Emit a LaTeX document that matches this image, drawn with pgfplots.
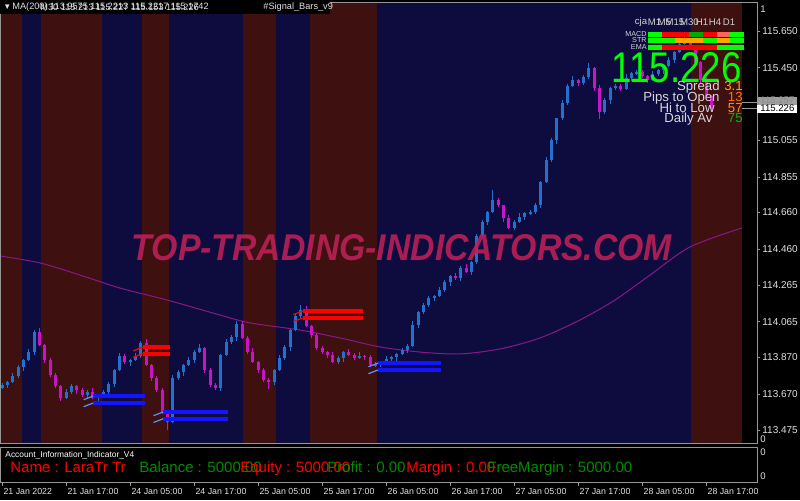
\documentclass[border=0pt]{standalone}
\usepackage{fontspec}
\setmainfont{Liberation Sans}
\usepackage{graphicx}
\usepackage{pgfplots}
\usepackage{pgfplotstable}
\pgfplotsset{compat=1.18}

\definecolor{bandred}{RGB}{62,16,16}
\definecolor{bandblue}{RGB}{14,12,62}
\definecolor{cblue}{RGB}{35,112,205}
\definecolor{cmag}{RGB}{200,20,200}
\definecolor{maline}{RGB}{135,25,135}
\definecolor{wm}{RGB}{190,32,88}
\definecolor{lime}{RGB}{0,255,0}
\definecolor{mtgreen}{RGB}{0,140,0}
\definecolor{axgray}{RGB}{150,150,150}
\definecolor{txt}{RGB}{225,225,225}
\definecolor{cg}{RGB}{0,255,0}
\definecolor{cr}{RGB}{255,0,0}
\definecolor{cdg}{RGB}{0,170,0}
\definecolor{csal}{RGB}{255,100,90}
\definecolor{cor}{RGB}{255,165,0}
\definecolor{sigblue}{RGB}{20,20,255}
\definecolor{stub}{RGB}{80,150,255}

\newcommand\fs[1]{\fontsize{#1}{#1}\selectfont}

% hourly candles: index, open, high, low, close
\pgfplotstableread{
x o h l c
0 113.705 113.732 113.696 113.720
1 113.720 113.742 113.705 113.736
2 113.736 113.787 113.731 113.769
3 113.769 113.827 113.758 113.818
4 113.818 113.860 113.798 113.856
5 113.856 113.914 113.849 113.899
6 113.899 114.019 113.886 114.009
7 114.009 114.031 113.934 113.938
8 113.938 113.945 113.840 113.856
9 113.856 113.869 113.764 113.774
10 113.774 113.786 113.705 113.714
11 113.714 113.720 113.634 113.649
12 113.649 113.699 113.644 113.681
13 113.681 113.723 113.670 113.714
14 113.714 113.718 113.672 113.692
15 113.692 113.707 113.658 113.665
16 113.665 113.691 113.652 113.681
17 113.681 113.703 113.645 113.649
18 113.649 113.672 113.633 113.665
19 113.665 113.694 113.655 113.681
20 113.681 113.737 113.672 113.725
21 113.725 113.807 113.710 113.801
22 113.801 113.896 113.796 113.878
23 113.878 113.887 113.834 113.845
24 113.845 113.860 113.825 113.856
25 113.856 113.893 113.849 113.878
26 113.878 113.959 113.865 113.949
27 113.949 113.971 113.825 113.829
28 113.829 113.836 113.742 113.758
29 113.758 113.771 113.682 113.692
30 113.692 113.704 113.563 113.572
31 113.572 113.578 113.475 113.518
32 113.518 113.776 113.513 113.758
33 113.758 113.799 113.747 113.790
34 113.790 113.833 113.770 113.829
35 113.829 113.871 113.822 113.856
36 113.856 113.909 113.843 113.899
37 113.899 113.943 113.895 113.921
38 113.921 113.928 113.785 113.801
39 113.801 113.814 113.710 113.720
40 113.720 113.732 113.694 113.703
41 113.703 113.889 113.688 113.883
42 113.883 113.972 113.878 113.954
43 113.954 113.990 113.943 113.981
44 113.981 114.072 113.961 114.052
45 114.052 114.067 113.969 113.976
46 113.976 113.986 113.886 113.899
47 113.899 113.921 113.841 113.845
48 113.845 113.852 113.785 113.801
49 113.801 113.814 113.737 113.747
50 113.747 113.759 113.700 113.736
51 113.736 113.807 113.721 113.801
52 113.801 113.885 113.796 113.867
53 113.867 113.936 113.856 113.927
54 113.927 114.023 113.907 114.019
55 114.019 114.111 114.012 114.096
56 114.096 114.156 114.083 114.128
57 114.128 114.150 114.037 114.041
58 114.041 114.048 113.976 113.992
59 113.992 114.005 113.911 113.921
60 113.921 113.933 113.890 113.899
61 113.899 113.905 113.868 113.883
62 113.883 113.901 113.840 113.845
63 113.845 113.876 113.834 113.867
64 113.867 113.903 113.847 113.899
65 113.899 113.914 113.876 113.883
66 113.883 113.893 113.854 113.867
67 113.867 113.900 113.863 113.878
68 113.878 113.885 113.856 113.872
69 113.872 113.885 113.819 113.829
70 113.829 113.846 113.820 113.834
71 113.834 113.851 113.819 113.845
72 113.845 113.879 113.840 113.861
73 113.861 113.881 113.850 113.872
74 113.872 113.893 113.852 113.889
75 113.889 113.925 113.882 113.910
76 113.910 113.942 113.897 113.932
77 113.932 114.069 113.928 114.047
78 114.047 114.125 114.031 114.118
79 114.118 114.169 114.108 114.156
80 114.156 114.206 114.147 114.194
81 114.194 114.211 114.179 114.205
82 114.205 114.256 114.200 114.238
83 114.238 114.290 114.227 114.281
84 114.281 114.318 114.261 114.314
85 114.314 114.329 114.296 114.303
86 114.303 114.368 114.290 114.358
87 114.358 114.380 114.332 114.336
88 114.336 114.397 114.320 114.390
89 114.390 114.545 114.380 114.532
90 114.532 114.620 114.523 114.608
91 114.608 114.669 114.593 114.663
92 114.663 114.783 114.658 114.728
93 114.728 114.737 114.690 114.701
94 114.701 114.705 114.610 114.630
95 114.630 114.645 114.569 114.576
96 114.576 114.618 114.563 114.608
97 114.608 114.658 114.604 114.636
98 114.636 114.664 114.620 114.657
99 114.657 114.676 114.647 114.663
100 114.663 114.713 114.654 114.701
101 114.701 114.832 114.686 114.826
102 114.826 114.964 114.821 114.946
103 114.946 115.064 114.935 115.055
104 115.055 115.179 115.035 115.175
105 115.175 115.272 115.168 115.257
106 115.257 115.360 115.244 115.350
107 115.350 115.405 115.346 115.383
108 115.383 115.390 115.350 115.366
109 115.366 115.412 115.356 115.399
110 115.399 115.475 115.390 115.448
111 115.448 115.454 115.324 115.339
112 115.339 115.357 115.170 115.208
113 115.208 115.283 115.197 115.274
114 115.274 115.343 115.254 115.339
115 115.339 115.365 115.332 115.350
116 115.350 115.360 115.321 115.334
117 115.334 115.416 115.330 115.394
118 115.394 115.428 115.378 115.421
119 115.421 115.439 115.411 115.426
120 115.426 115.438 115.396 115.405
121 115.405 115.411 115.368 115.383
122 115.383 115.433 115.378 115.415
123 115.415 115.446 115.404 115.437
124 115.437 115.463 115.417 115.459
125 115.459 115.507 115.452 115.492
126 115.492 115.545 115.479 115.535
127 115.535 115.601 115.531 115.579
128 115.579 115.628 115.563 115.601
129 115.601 115.614 115.547 115.557
130 115.557 115.569 115.472 115.481
131 115.481 115.487 115.368 115.383
132 115.383 115.401 115.290 115.295
133 115.295 115.304 115.215 115.226
}\candles

\begin{document}
\begin{tikzpicture}
\fill[black] (0pt,0pt) rectangle (400pt,250pt);

% ---------------- main price panel ----------------
\begin{axis}[
  at={(0pt,28.5pt)}, anchor=south west,
  width=378.5pt, height=220.5pt, scale only axis,
  xmin=-0.375, xmax=141.56, ymin=113.403, ymax=115.808,
  axis on top,
  axis line style={draw=axgray},
  xtick=\empty,
  ytick={113.475,113.670,113.870,114.065,114.265,114.460,114.660,114.855,115.055,115.450,115.650},
  yticklabels={113.475,113.670,113.870,114.065,114.265,114.460,114.660,114.855,115.055,115.450,115.650},
  ytick pos=right, yticklabel pos=right,
  tick align=outside, major tick length=1.5pt,
  tick style={draw=axgray},
  yticklabel style={font=\fs{5}, text=txt, anchor=west, inner sep=0pt, xshift=1pt},
]
  % session bands
  \addplot[fill=bandred, draw=none] coordinates {(-0.375,113.403) (3.75,113.403) (3.75,115.808) (-0.375,115.808)} -- cycle;
  \addplot[fill=bandblue, draw=none] coordinates {(3.75,113.403) (7.31,113.403) (7.31,115.808) (3.75,115.808)} -- cycle;
  \addplot[fill=bandred, draw=none] coordinates {(7.31,113.403) (18.75,113.403) (18.75,115.808) (7.31,115.808)} -- cycle;
  \addplot[fill=bandblue, draw=none] coordinates {(18.75,113.403) (26.25,113.403) (26.25,115.808) (18.75,115.808)} -- cycle;
  \addplot[fill=bandred, draw=none] coordinates {(26.25,113.403) (31.31,113.403) (31.31,115.808) (26.25,115.808)} -- cycle;
  \addplot[fill=bandblue, draw=none] coordinates {(31.31,113.403) (45.19,113.403) (45.19,115.808) (31.31,115.808)} -- cycle;
  \addplot[fill=bandred, draw=none] coordinates {(45.19,113.403) (51.38,113.403) (51.38,115.808) (45.19,115.808)} -- cycle;
  \addplot[fill=bandblue, draw=none] coordinates {(51.38,113.403) (57.75,113.403) (57.75,115.808) (51.38,115.808)} -- cycle;
  \addplot[fill=bandred, draw=none] coordinates {(57.75,113.403) (70.31,113.403) (70.31,115.808) (57.75,115.808)} -- cycle;
  \addplot[fill=bandblue, draw=none] coordinates {(70.31,113.403) (129.19,113.403) (129.19,115.808) (70.31,115.808)} -- cycle;
  \addplot[fill=bandred, draw=none] coordinates {(129.19,113.403) (138.75,113.403) (138.75,115.808) (129.19,115.808)} -- cycle;

  % MA(200)
  \addplot[maline, line width=0.5pt, smooth] coordinates {
    (-0.375,114.423) (7.125,114.385) (14.625,114.319) (22.125,114.248)
    (30.94,114.183) (40.875,114.101) (46.5,114.058) (55.875,114.019)
    (63.375,113.976) (70.875,113.927) (78.375,113.899) (85.875,113.889)
    (93.375,113.916) (100.875,113.976) (108.375,114.074) (114.94,114.183)
    (121.5,114.319) (129,114.472) (138.75,114.576)};

  % candles: wicks and bodies, up = blue, down = magenta
  \addplot[draw=none, mark=none,
    restrict expr to domain={\thisrow{c}-\thisrow{o}}{0:5},
    error bars/.cd, y dir=both, y explicit, error mark=none,
    error bar style={cblue, line width=0.5pt}]
    table[x=x, y expr={(\thisrow{h}+\thisrow{l})/2}, y error expr={(\thisrow{h}-\thisrow{l})/2}] {\candles};
  \addplot[draw=none, mark=none,
    restrict expr to domain={\thisrow{c}-\thisrow{o}}{0:5},
    error bars/.cd, y dir=both, y explicit, error mark=none,
    error bar style={cblue, line width=1.5pt}]
    table[x=x, y expr={(\thisrow{o}+\thisrow{c})/2}, y error expr={abs(\thisrow{c}-\thisrow{o})/2}] {\candles};
  \addplot[draw=none, mark=none,
    restrict expr to domain={\thisrow{c}-\thisrow{o}}{-5:0},
    error bars/.cd, y dir=both, y explicit, error mark=none,
    error bar style={cmag, line width=0.5pt}]
    table[x=x, y expr={(\thisrow{h}+\thisrow{l})/2}, y error expr={(\thisrow{h}-\thisrow{l})/2}] {\candles};
  \addplot[draw=none, mark=none,
    restrict expr to domain={\thisrow{c}-\thisrow{o}}{-5:0},
    error bars/.cd, y dir=both, y explicit, error mark=none,
    error bar style={cmag, line width=1.5pt}]
    table[x=x, y expr={(\thisrow{o}+\thisrow{c})/2}, y error expr={abs(\thisrow{c}-\thisrow{o})/2}] {\candles};

  % signal bars
  \addplot[cr, line width=2pt] coordinates {(26.4,113.926) (31.5,113.926)};
  \addplot[cr, line width=2pt] coordinates {(26.4,113.890) (31.5,113.890)};
  \addplot[cr, line width=2pt] coordinates {(56.4,114.123) (67.7,114.123)};
  \addplot[cr, line width=2pt] coordinates {(56.4,114.085) (67.7,114.085)};
  \addplot[sigblue, line width=2pt] coordinates {(17.1,113.659) (26.8,113.659)};
  \addplot[sigblue, line width=2pt] coordinates {(17.1,113.621) (26.8,113.621)};
  \addplot[sigblue, line width=2pt] coordinates {(30.2,113.572) (42.4,113.572)};
  \addplot[sigblue, line width=2pt] coordinates {(30.2,113.535) (42.4,113.535)};
  \addplot[sigblue, line width=2pt] coordinates {(70.5,113.839) (82.3,113.839)};
  \addplot[sigblue, line width=2pt] coordinates {(70.5,113.801) (82.3,113.801)};
  % small arrow stubs
  \addplot[cr, line width=0.6pt] coordinates {(24.6,113.906) (26.4,113.926)};
  \addplot[cr, line width=0.6pt] coordinates {(24.6,113.870) (26.4,113.890)};
  \addplot[cr, line width=0.6pt] coordinates {(54.6,114.103) (56.4,114.123)};
  \addplot[cr, line width=0.6pt] coordinates {(54.6,114.065) (56.4,114.085)};
  \addplot[stub, line width=0.6pt] coordinates {(15.3,113.639) (17.1,113.659)};
  \addplot[stub, line width=0.6pt] coordinates {(15.3,113.601) (17.1,113.621)};
  \addplot[stub, line width=0.6pt] coordinates {(28.4,113.552) (30.2,113.572)};
  \addplot[stub, line width=0.6pt] coordinates {(28.4,113.515) (30.2,113.535)};
  \addplot[stub, line width=0.6pt] coordinates {(68.7,113.819) (70.5,113.839)};
  \addplot[stub, line width=0.6pt] coordinates {(68.7,113.781) (70.5,113.801)};
\end{axis}

% ---------------- account info sub panel ----------------
\begin{axis}[
  at={(0pt,9pt)}, anchor=south west,
  width=378.5pt, height=17.5pt, scale only axis,
  xmin=-0.375, xmax=141.56, ymin=0, ymax=1,
  axis line style={draw=axgray},
  ytick=\empty,
  xtick={0,12,24,36,48,60,72,84,96,108,120,132},
  xticklabels={21 Jan 2022,21 Jan 17:00,24 Jan 05:00,24 Jan 17:00,25 Jan 05:00,25 Jan 17:00,26 Jan 05:00,26 Jan 17:00,27 Jan 05:00,27 Jan 17:00,28 Jan 05:00,28 Jan 17:00},
  xtick pos=bottom, tick align=outside, major tick length=2pt,
  tick style={draw=axgray},
  xticklabel style={font=\fs{4.4}, text=txt, anchor=north west, inner sep=0pt, xshift=0.6pt, yshift=-1pt},
]
  \addplot[draw=none] coordinates {(0,0)};
\end{axis}

\begin{scope}[x=0.5pt,y=0.5pt]
% header text, top left
\fill[black] (0,486) rectangle (330,500);
\node[anchor=west, text=txt, inner sep=0pt, font=\fs{4}] at (3,493) {▼};
\node[anchor=west, text=txt, inner sep=0pt, font=\fs{4.6}] at (12,493) {MA(200) 113.9575 115.2213 115.2217 115.1742};
\node[anchor=west, text=txt, inner sep=0pt, font=\fs{4.6}] at (40,493) {M30 115.213 115.227 115.153 115.226};
\node[anchor=west, text=txt, inner sep=0pt, font=\fs{4.6}] at (263,493) {\#Signal\_Bars\_v9};

% multi timeframe panel, top right
\foreach \lab/\xx in {cja/641, M1/654.5, M5/664.5, M15/675, M30/689.5, H1/702, H4/715, D1/729}
  \node[text=txt!85!gray, inner sep=0pt, font=\fs{4.8}] at (\xx,477.5) {\lab};
\node[anchor=east, text=txt!85!gray, inner sep=0pt, font=\fs{3.6}] at (647,466) {MACD};
\node[anchor=east, text=txt!85!gray, inner sep=0pt, font=\fs{3.6}] at (647,460) {STR};
\node[anchor=east, text=txt!85!gray, inner sep=0pt, font=\fs{3.6}] at (647,453) {EMA};
\foreach \c [count=\i from 0] in {cg,cr,cr,cdg,cr,csal,cg}
  \fill[\c] ({648+\i*13.714},463) rectangle ({648+(\i+1)*13.714},468.5);
\foreach \c [count=\i from 0] in {cg,cg,cor,cor,cg,cor,cg}
  \fill[\c] ({648+\i*13.714},457) rectangle ({648+(\i+1)*13.714},462);
\foreach \c [count=\i from 0] in {cg,cr,cr,cr,cr,cg,cg}
  \fill[\c] ({648+\i*13.714},450) rectangle ({648+(\i+1)*13.714},455.5);

\node[anchor=south east, text=lime, inner sep=0pt] at (742,417) {\resizebox{65pt}{15pt}{115.226}};
\node[anchor=base east, text=txt!90!gray, inner sep=0pt, font=\fs{6.6}] at (720,410) {Spread};
\node[anchor=base east, text=txt!90!gray, inner sep=0pt, font=\fs{6.6}] at (720,399) {Pips to Open};
\node[anchor=base east, text=txt!90!gray, inner sep=0pt, font=\fs{6.6}] at (715,388) {Hi to Low};
\node[anchor=base east, text=txt!90!gray, inner sep=0pt, font=\fs{6.6}] at (713,378) {Daily Av};
\node[anchor=base east, text=cor, inner sep=0pt, font=\fs{6.6}] at (743,410) {3.1};
\node[anchor=base east, text=orange!90!red, inner sep=0pt, font=\fs{6.6}] at (743,399) {13};
\node[anchor=base east, text=orange!80!yellow, inner sep=0pt, font=\fs{6.6}] at (743,388) {57};
\node[anchor=base east, text=cdg!80!lime, inner sep=0pt, font=\fs{6.6}] at (743,378) {75};

% price boxes on the scale
\draw[axgray, line width=0.4pt] (742,398) -- (758,398);
\draw[axgray, line width=0.4pt] (742,391.5) -- (758,391.5);
\fill[gray!75] (758,395.5) rectangle (797,403.5);
\node[anchor=west, text=black!45, inner sep=0pt, font=\fs{4.8}] at (760,399.5) {115.257};
\fill[white] (757,387.5) rectangle (797,395.5);
\node[anchor=west, text=black, inner sep=0pt, font=\fs{4.8}] at (760,391.5) {115.226};
\node[anchor=west, text=txt, inner sep=0pt, font=\fs{4.8}] at (760,491) {1};
\node[anchor=west, text=txt, inner sep=0pt, font=\fs{4.8}] at (760,61) {0};
\node[anchor=west, text=txt, inner sep=0pt, font=\fs{4.8}] at (760,48) {0};
\node[anchor=west, text=txt, inner sep=0pt, font=\fs{4.8}] at (760,24) {0};

% account info line
\node[anchor=west, text=white, inner sep=0pt, font=\fs{4.2}] at (5,45) {Account\_Information\_Indicator\_V4};
\node[anchor=base west, text=cr, inner sep=0pt, font=\fs{7.5}] at (10,27.5) {Name : LaraTr Tr};
\node[anchor=base west, text=mtgreen, inner sep=0pt, font=\fs{7.5}] at (139,27.5) {Balance : 5000.00};
\node[anchor=base west, text=cr, inner sep=0pt, font=\fs{7.5}] at (240,27.5) {Equity : 5000.00};
\node[anchor=base west, text=mtgreen, inner sep=0pt, font=\fs{7.5}] at (327,27.5) {Profit : 0.00};
\node[anchor=base west, text=cr, inner sep=0pt, font=\fs{7.5}] at (406,27.5) {Margin : 0.00};
\node[anchor=base west, text=mtgreen, inner sep=0pt, font=\fs{7.5}] at (487,27.5) {FreeMargin : 5000.00};

% watermark
\node[text=wm, opacity=0.88, inner sep=0pt] at (402,252) {\resizebox{270pt}{13pt}{\bfseries\itshape TOP-TRADING-INDICATORS.COM}};
\end{scope}

\pgfresetboundingbox
\path (0pt,0pt) rectangle (400pt,250pt);
\end{tikzpicture}
\end{document}
